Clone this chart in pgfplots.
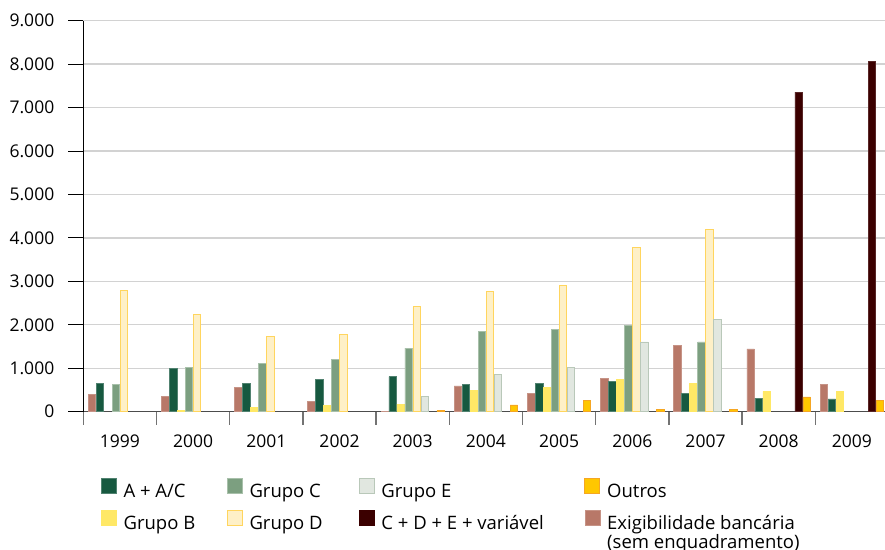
\documentclass[border=0pt]{standalone}
\usepackage{fontspec}
\setmainfont{Open Sans}
\usepackage{pgfplots}
\pgfplotsset{compat=1.18}
\definecolor{cExig}{HTML}{B87868}
\definecolor{cA}{HTML}{175940}
\definecolor{cB}{HTML}{FFE866}
\definecolor{cC}{HTML}{7C9F80}
\definecolor{cCd}{HTML}{A8C0AA}
\definecolor{cD}{HTML}{FEF0C7}
\definecolor{cDd}{HTML}{FFD55E}
\definecolor{cE}{HTML}{E1E7E0}
\definecolor{cEd}{HTML}{B9C8B9}
\definecolor{cCDE}{HTML}{3B0000}
\definecolor{cO}{HTML}{FFC700}
\definecolor{cOd}{HTML}{F5A623}
\definecolor{cGrid}{HTML}{D2D2D2}
\begin{document}
\fontsize{17.5}{21}\selectfont
\begin{tikzpicture}
\begin{axis}[
  name=ax,
  scale only axis,
  width=805.2pt, height=391pt,
  xmin=-0.5, xmax=10.5,
  ymin=0, ymax=9000,
  axis x line*=bottom, axis y line*=left,
  axis line style={-},
  x axis line style={draw=black!70, line width=1.4pt},
  y axis line style={draw=black, line width=1pt},
  bar width=7.5pt,
  xtick={0,1,2,3,4,5,6,7,8,9,10},
  xticklabels={1999,2000,2001,2002,2003,2004,2005,2006,2007,2008,2009},
  minor xtick={-0.5,0.5,1.5,2.5,3.5,4.5,5.5,6.5,7.5,8.5,9.5,10.5},
  tick align=outside,
  major tick length=15pt,
  minor tick length=13pt,
  major x tick style={draw=none},
  minor x tick style={draw=black!55, line width=1.3pt},
  major y tick style={draw=black, line width=1pt},
  ytick={0,1000,2000,3000,4000,5000,6000,7000,8000,9000},
  ymajorgrids,
  major grid style={draw=cGrid, line width=1.3pt},
  /pgf/number format/1000 sep={.},
  /pgf/number format/assume math mode=true,
  ticklabel style={font=\fontsize{17.5}{21}\selectfont},
  yticklabel style={xshift=-8pt},
  xticklabel style={yshift=-2pt},
  clip=false,
  legend columns=4,
  legend cell align=left,
  legend image code/.code={\draw[#1] (0pt,-0.7pt) rectangle (15pt,14.3pt); \path (22pt,0pt);},
  legend style={
    at={(0,0)}, anchor=north west, xshift=17.7pt, yshift=-66.5pt,
    draw=none, fill=none, inner sep=0pt, outer sep=0pt,
    column sep=0pt, row sep=8.5pt,
    font=\fontsize{18.5}{21}\selectfont,
    nodes={inner sep=0pt, text height=13pt, text depth=4pt},
  },
]
% Exigibilidade bancaria
\addplot[ybar, bar shift=-28pt, fill=cExig, draw=cExig!80!white, line width=0.6pt, forget plot] coordinates {
(0,405) (1,360) (2,565) (3,245) (4,10) (5,595) (6,415) (7,775) (8,1530) (9,1445) (10,625)};
% A + A/C
\addplot[ybar, bar shift=-20pt, fill=cA, draw=cA!75!white, line width=0.6pt, forget plot] coordinates {
(0,645) (1,990) (2,645) (3,750) (4,805) (5,620) (6,645) (7,700) (8,415) (9,315) (10,295)};
% Grupo B
\addplot[ybar, bar shift=-12pt, fill=cB, draw=cB, line width=0.6pt, forget plot] coordinates {
(1,35) (2,95) (3,145) (4,175) (5,485) (6,565) (7,735) (8,660) (9,470) (10,470)};
% Grupo C
\addplot[ybar, bar shift=-4pt, fill=cC, draw=cCd, line width=0.8pt, forget plot] coordinates {
(0,625) (1,1020) (2,1120) (3,1205) (4,1465) (5,1855) (6,1885) (7,1995) (8,1605)};
% Grupo D
\addplot[ybar, bar shift=4pt, fill=cD, draw=cDd, line width=0.9pt, forget plot] coordinates {
(0,2785) (1,2240) (2,1735) (3,1785) (4,2415) (5,2760) (6,2915) (7,3790) (8,4185)};
% Grupo E
\addplot[ybar, bar shift=12pt, fill=cE, draw=cEd, line width=0.9pt, forget plot] coordinates {
(4,360) (5,865) (6,1025) (7,1605) (8,2115)};
% C + D + E + variavel
\addplot[ybar, bar shift=20pt, fill=cCDE, draw=cCDE!85!white, line width=0.6pt, forget plot] coordinates {
(9,7353) (10,8066)};
% Outros
\addplot[ybar, bar shift=28pt, fill=cO, draw=cOd, line width=0.8pt, forget plot] coordinates {
(4,30) (5,155) (6,265) (7,55) (8,55) (9,340) (10,262)};

\addlegendimage{fill=cA, draw=cA!75!white, line width=0.6pt}
\addlegendentry{\makebox[103pt][l]{A + A/C}}
\addlegendimage{fill=cC, draw=cCd, line width=0.8pt}
\addlegendentry{\makebox[109pt][l]{Grupo C}}
\addlegendimage{fill=cE, draw=cEd, line width=0.9pt}
\addlegendentry{\makebox[203pt][l]{Grupo E}}
\addlegendimage{fill=cO, draw=cOd, line width=0.8pt}
\addlegendentry{Outros}
\addlegendimage{fill=cB, draw=cB, line width=0.6pt}
\addlegendentry{\makebox[103pt][l]{Grupo B}}
\addlegendimage{fill=cD, draw=cDd, line width=0.9pt}
\addlegendentry{\makebox[109pt][l]{Grupo D}}
\addlegendimage{fill=cCDE, draw=cCDE, line width=0.6pt}
\addlegendentry{\makebox[203pt][l]{C + D + E + variável}}
\addlegendimage{fill=cExig, draw=cExig!80!white, line width=0.6pt}
\addlegendentry{\parbox[t]{210pt}{\fontsize{18.5}{18.4}\selectfont Exigibilidade bancária\\(sem enquadramento)}}
\end{axis}
\pgfresetboundingbox
\path[use as bounding box] ([xshift=-83.3pt,yshift=-138.3pt]ax.south west) rectangle ([xshift=801.7pt,yshift=20.7pt]ax.north west);
\end{tikzpicture}
\end{document}
